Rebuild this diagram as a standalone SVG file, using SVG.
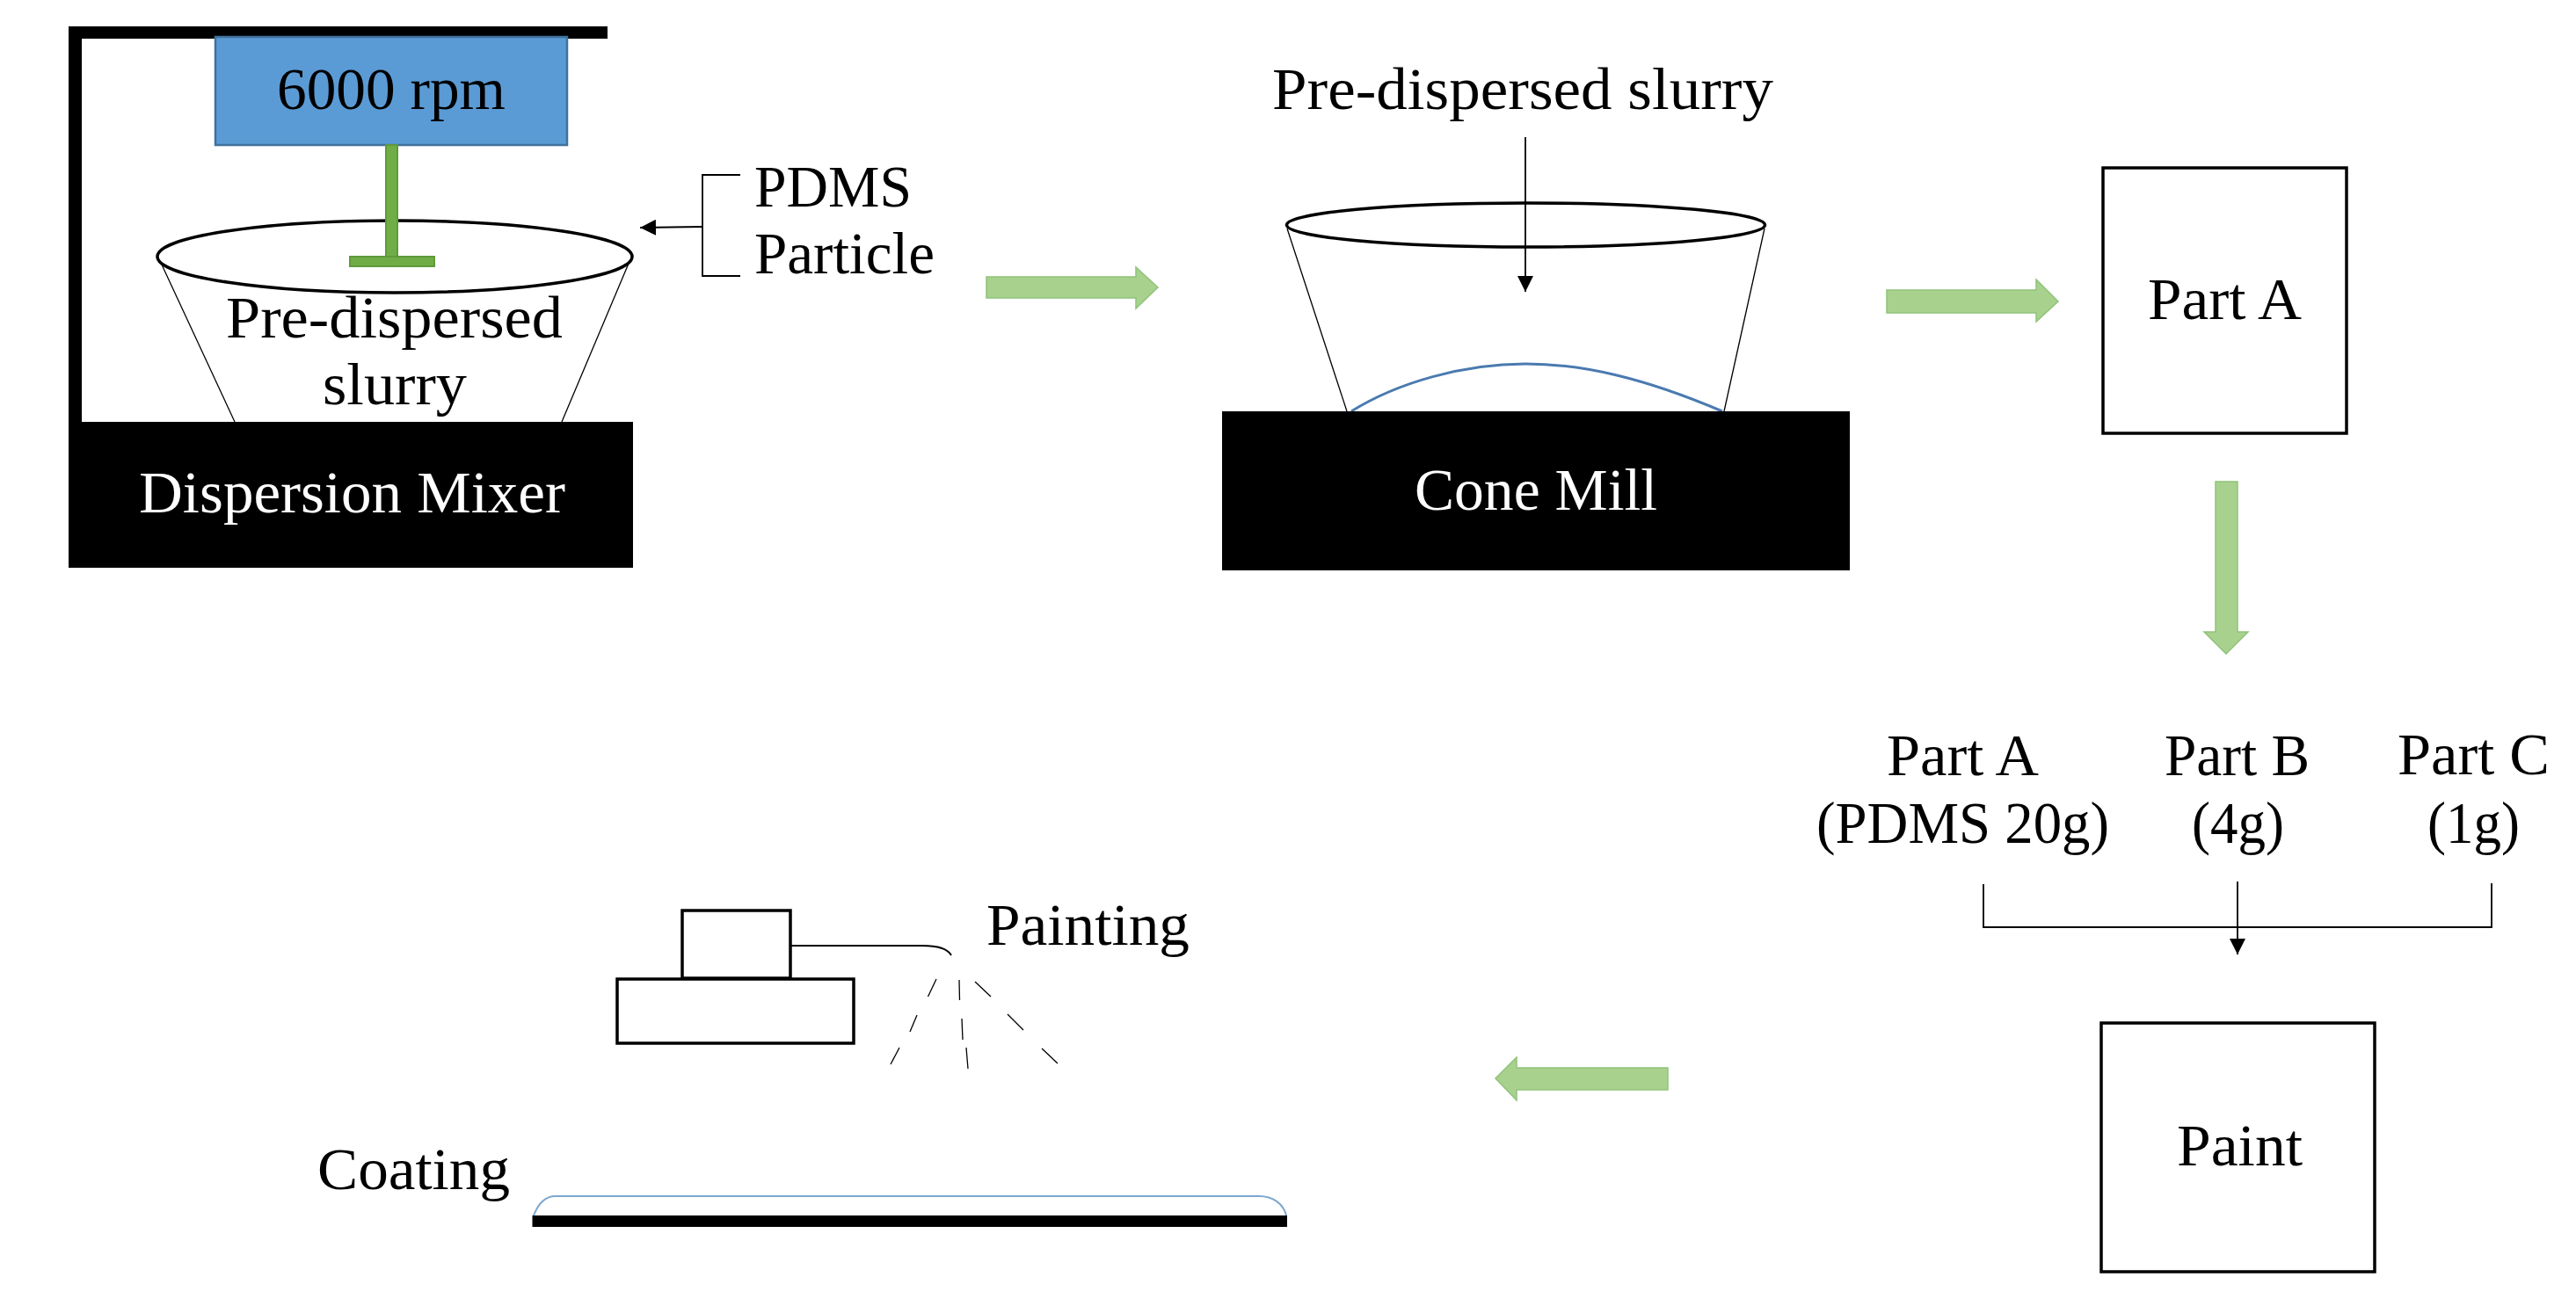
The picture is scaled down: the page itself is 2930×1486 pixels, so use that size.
<svg xmlns="http://www.w3.org/2000/svg" width="2930" height="1486" viewBox="0 0 2930 1486">
<style>
text{font-family:"Liberation Serif","Times New Roman",serif;font-size:67px;fill:#000}
text.w{fill:#fff}
.box{fill:#fff;stroke:#000;stroke-width:3.5}
.thin{fill:none;stroke:#000;stroke-width:1.8}
.cone{fill:none;stroke:#000;stroke-width:1.3}
.rim{fill:#fff;stroke:#000;stroke-width:3.5}
.solid{fill:#000}
.flow{fill:#a9d18e;stroke:#8fc37a;stroke-width:1.5}
.shaft{fill:#70ad47;stroke:#5f9a3a;stroke-width:2}
.film{fill:none;stroke:#4a7ab0;stroke-width:3}
</style>
<defs>
<marker id="head" viewBox="0 0 10 10" refX="10" refY="5" markerWidth="18" markerHeight="18" markerUnits="userSpaceOnUse" orient="auto"><path d="M0 0L10 5L0 10Z" fill="#000"/></marker>
</defs>
<rect width="2930" height="1486" fill="#fff"/>

<g id="dispersion-mixer">
<path class="solid" d="M78 30H691V44H93V480H78Z"/>
<path class="cone" d="M183 299L267 480M717 295L639 480"/>
<rect class="solid" x="78" y="480" width="642" height="166"/>
<text class="w" x="158" y="583" textLength="485" lengthAdjust="spacingAndGlyphs">Dispersion Mixer</text>
<ellipse class="rim" cx="449" cy="292" rx="270" ry="41"/>
<rect x="245" y="42" width="400" height="123" fill="#5b9bd5" stroke="#41719c" stroke-width="2.5"/>
<text x="315" y="124" textLength="260" lengthAdjust="spacingAndGlyphs">6000 rpm</text>
<rect class="shaft" x="439" y="165" width="13" height="128"/>
<rect class="shaft" x="398" y="292" width="96" height="11"/>
<text x="257" y="384" textLength="383" lengthAdjust="spacingAndGlyphs">Pre-dispersed</text>
<text x="367" y="460" textLength="164" lengthAdjust="spacingAndGlyphs">slurry</text>
</g>

<g id="ingredients">
<text x="858" y="235" textLength="179" lengthAdjust="spacingAndGlyphs">PDMS</text>
<text x="858" y="311" textLength="205" lengthAdjust="spacingAndGlyphs">Particle</text>
</g>

<g id="cone-mill">
<path class="cone" d="M1464 260L1532 468M2007 260L1961 468"/>
<ellipse class="rim" cx="1735.5" cy="256" rx="272" ry="25" style="fill:none"/>
<path class="film" d="M1537 468C1590 435 1665 414 1735 414C1800 414 1870 430 1959 468"/>
<rect class="solid" x="1390" y="468" width="714" height="181"/>
<text class="w" x="1609" y="580" textLength="276" lengthAdjust="spacingAndGlyphs">Cone Mill</text>
<text x="1447" y="124" textLength="570" lengthAdjust="spacingAndGlyphs">Pre-dispersed slurry</text>
</g>

<g id="part-a-box">
<rect class="box" x="2392" y="191" width="277" height="302"/>
<text x="2443" y="363" textLength="175" lengthAdjust="spacingAndGlyphs">Part A</text>
</g>

<g id="part-a-label">
<text x="2146" y="882" textLength="173" lengthAdjust="spacingAndGlyphs">Part A</text>
<text x="2066" y="959" textLength="333" lengthAdjust="spacingAndGlyphs">(PDMS 20g)</text>
</g>
<g id="part-b-label">
<text x="2462" y="882" textLength="165" lengthAdjust="spacingAndGlyphs">Part B</text>
<text x="2493" y="959" textLength="105" lengthAdjust="spacingAndGlyphs">(4g)</text>
</g>
<g id="part-c-label">
<text x="2727" y="881" textLength="173" lengthAdjust="spacingAndGlyphs">Part C</text>
<text x="2761" y="959" textLength="105" lengthAdjust="spacingAndGlyphs">(1g)</text>
</g>

<g id="paint-box">
<rect class="box" x="2390" y="1164" width="311" height="283"/>
<text x="2476" y="1326" textLength="143" lengthAdjust="spacingAndGlyphs">Paint</text>
</g>

<g id="spray-gun">
<rect class="box" x="776" y="1036" width="123" height="77"/>
<rect class="box" x="702" y="1114" width="269" height="73"/>
<path class="thin" d="M899 1076H1049Q1076 1076 1082 1087"/>
<path class="cone" d="M1065 1114L1055.500 1134M1043 1155L1035 1174M1023 1192L1013 1211M1091 1115L1091.500 1138M1094 1159L1095 1183M1099 1192L1101 1216M1109 1117L1127 1134M1146 1154L1164 1172M1185 1193L1203 1210"/>
<text x="1122" y="1075" textLength="231" lengthAdjust="spacingAndGlyphs">Painting</text>
</g>

<g id="coating">
<text x="361" y="1353" textLength="219" lengthAdjust="spacingAndGlyphs">Coating</text>
<path d="M607 1383C612 1370 620 1361 632 1361H1432C1448 1361 1460 1370 1463 1383" fill="none" stroke="#7ba7d0" stroke-width="2"/>
<rect class="solid" x="605.500" y="1383" width="858.500" height="13"/>
</g>

<g id="connectors">
<path class="flow" d="M1122 315H1292V304L1317 327L1292 351V339H1122Z"/>
<path class="flow" d="M2146 330H2316V318L2341 343L2316 366V356H2146Z"/>
<path class="flow" d="M2520 548H2545V719H2557L2532 744L2507 719H2520Z"/>
<path class="flow" d="M1897 1215H1725V1203L1701 1227L1725 1252V1240H1897Z"/>
<path class="thin" d="M842 199H799V314H842"/>
<path class="thin" d="M799 258L728 259" marker-end="url(#head)"/>
<path class="thin" d="M1735 156V332" marker-end="url(#head)"/>
<path class="thin" d="M2256 1006V1055H2834V1005"/>
<path class="thin" d="M2545 1003V1086" marker-end="url(#head)"/>
</g>
</svg>
